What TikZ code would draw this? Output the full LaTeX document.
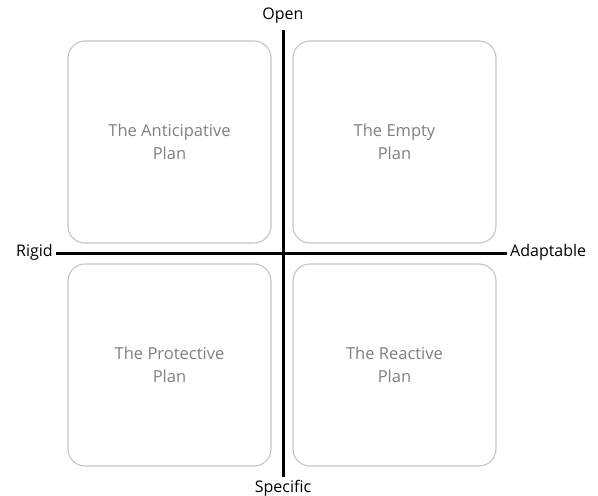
\documentclass[tikz,border=0pt]{standalone}
\usepackage{fontspec}
\setmainfont{Open Sans}
\definecolor{boxgray}{HTML}{C4C4C4}
\definecolor{textgray}{HTML}{7F7F7F}
\tikzset{
	planbox/.style={draw=boxgray, line width=1.1pt, rounded corners=17pt, minimum width=203pt, minimum height=202pt, text=textgray, align=center, font=\fontsize{16.5}{23}\selectfont},
	axislabel/.style={font=\fontsize{16}{19}\selectfont, inner sep=3pt},
	axis/.style={line width=3pt}
}

\begin{document}
\begin{tikzpicture}[x=1pt, y=-1pt]
		\useasboundingbox (0, 0) rectangle (598, 496);
		% the four plans
		\node(anticipative)[planbox] at (169.5, 142) {The Anticipative\\Plan};
		\node(empty)[planbox] at (394.5, 142) {The Empty\\Plan};
		\node(protective)[planbox] at (169.5, 365) {The Protective\\Plan};
		\node(reactive)[planbox] at (394.5, 365) {The Reactive\\Plan};
		% axis labels
		\node(open)[axislabel, anchor=center] at (283, 16) {Open};
		\node(specific)[axislabel, anchor=center] at (283, 488) {Specific};
		\node(rigid)[axislabel, anchor=east] at (56, 252) {Rigid};
		\node(adaptable)[axislabel, anchor=west] at (507, 252) {Adaptable};
		% axes
		\draw[axis] (283, 30) coordinate(top) -- (top |- specific.north);
		\draw[axis] (rigid.east |- 0, 253) -- (adaptable.west |- 0, 253);
		\end{tikzpicture}
\end{document}
